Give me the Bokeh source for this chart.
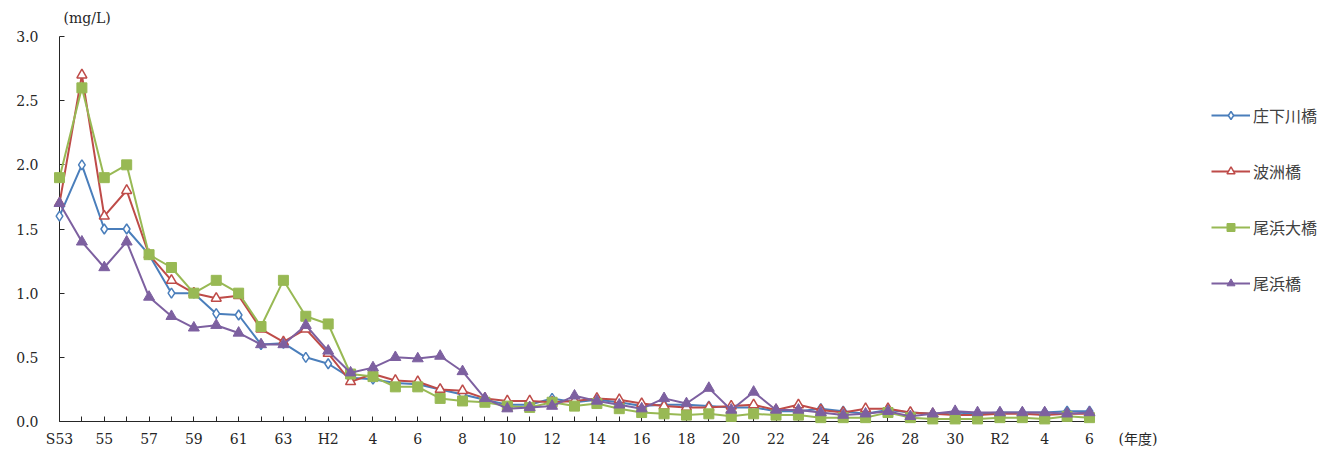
import numpy as np
from bokeh.plotting import figure
from bokeh.models import Range1d, FixedTicker, Legend, LegendItem, NumeralTickFormatter
from bokeh.embed import file_html
from bokeh.resources import INLINE
from bokeh.core.properties import value

# fiscal years S53 (1978) ... R6 (2024), index 0..46
year_index = list(range(47))
tick_positions = list(range(0, 47, 2))
tick_labels = ["S53", "55", "57", "59", "61", "63", "H2", "4", "6", "8", "10", "12",
               "14", "16", "18", "20", "22", "24", "26", "28", "30", "R2", "4", "6"]
y_ticks = [0.0, 0.5, 1.0, 1.5, 2.0, 2.5, 3.0]

names = ["庄下川橋", "波洲橋", "尾浜大橋", "尾浜橋"]

shoge = [1.6, 2.0, 1.5, 1.5, 1.3, 1.0, 1.0, 0.84, 0.83, 0.60, 0.61, 0.50, 0.45, 0.34, 0.33, 0.30,
         0.29, 0.25, 0.21, 0.17, 0.13, 0.13, 0.18, 0.15, 0.17, 0.15, 0.12, 0.13, 0.13, 0.12, 0.11,
         0.11, 0.08, 0.08, 0.10, 0.08, 0.06, 0.09, 0.07, 0.06, 0.07, 0.06, 0.07, 0.07, 0.07, 0.08, 0.08]
hasu = [1.7, 2.7, 1.6, 1.8, 1.3, 1.1, 1.0, 0.96, 0.98, 0.72, 0.62, 0.72, 0.53, 0.31, 0.37, 0.32,
        0.31, 0.25, 0.24, 0.18, 0.16, 0.16, 0.15, 0.16, 0.18, 0.17, 0.14, 0.12, 0.11, 0.11, 0.12,
        0.13, 0.09, 0.13, 0.09, 0.07, 0.10, 0.10, 0.07, 0.06, 0.05, 0.05, 0.06, 0.06, 0.05, 0.06, 0.06]
obama_ohashi = [1.9, 2.6, 1.9, 2.0, 1.3, 1.2, 1.0, 1.1, 1.0, 0.74, 1.1, 0.82, 0.76, 0.37, 0.35, 0.27,
                0.27, 0.18, 0.16, 0.15, 0.12, 0.11, 0.15, 0.12, 0.14, 0.10, 0.07, 0.06, 0.05, 0.06, 0.04,
                0.06, 0.05, 0.05, 0.03, 0.03, 0.03, 0.07, 0.03, 0.02, 0.02, 0.02, 0.03, 0.03, 0.02, 0.04, 0.03]
obama = [1.7, 1.4, 1.2, 1.4, 0.97, 0.82, 0.73, 0.75, 0.69, 0.60, 0.60, 0.75, 0.55, 0.38, 0.42, 0.50,
         0.49, 0.51, 0.39, 0.18, 0.10, 0.11, 0.12, 0.20, 0.16, 0.13, 0.10, 0.18, 0.14, 0.26, 0.09,
         0.23, 0.09, 0.09, 0.07, 0.05, 0.06, 0.08, 0.04, 0.06, 0.08, 0.07, 0.07, 0.07, 0.07, 0.06, 0.07]

series = [shoge, hasu, obama_ohashi, obama]
colors = ["#4A7EBB", "#BE4B48", "#98B954", "#7D60A0"]

SERIF = "DejaVu Serif, 'Noto Sans CJK JP'"
SANS = "Noto Sans CJK JP"
TXT = "#262626"

# frame: data x 0..46 spans 1030 px; the frame continues to the right edge
# of the canvas (room for the legend), the axis itself is bounded to 0..46
LEFT, TOP, BOTTOM = 59, 36, 27
AXIS_PX = 1030
x_end = 46 * (1319 - LEFT) / AXIS_PX

p = figure(width=1319, height=449, x_range=Range1d(0, x_end), y_range=Range1d(0, 3),
           output_backend="svg", toolbar_location=None,
           min_border_left=LEFT, min_border_right=0, min_border_top=TOP, min_border_bottom=BOTTOM)
p.outline_line_color = None
p.xgrid.grid_line_color = None
p.ygrid.grid_line_color = None
p.background_fill_color = "white"

# y axis
p.yaxis.ticker = FixedTicker(ticks=y_ticks)
p.yaxis.formatter = NumeralTickFormatter(format="0.0")
p.yaxis.major_tick_in = 5
p.yaxis.major_tick_out = 0
p.yaxis.minor_tick_line_color = None
p.yaxis.major_label_standoff = 21
p.yaxis.axis_line_color = TXT
p.yaxis.major_tick_line_color = TXT
p.yaxis.major_label_text_font = SERIF
p.yaxis.major_label_text_font_size = "14px"
p.yaxis.major_label_text_color = TXT

# x axis
p.xaxis.bounds = (0, 46)
p.xaxis.ticker = FixedTicker(ticks=tick_positions,
                             minor_ticks=[i for i in year_index if i % 2 == 1])
p.xaxis.major_label_overrides = {pos: lab for pos, lab in zip(tick_positions, tick_labels)}
p.xaxis.major_tick_in = 5
p.xaxis.major_tick_out = 0
p.xaxis.minor_tick_in = 5
p.xaxis.minor_tick_out = 0
p.xaxis.major_label_standoff = 9
p.xaxis.axis_line_color = TXT
p.xaxis.major_tick_line_color = TXT
p.xaxis.minor_tick_line_color = TXT
p.xaxis.major_label_text_font = SERIF
p.xaxis.major_label_text_font_size = "14px"
p.xaxis.major_label_text_color = TXT

markers = [dict(marker="diamond", size=10, fill_color="white", line_width=1.5),
           dict(marker="triangle", size=10, fill_color="white", line_width=1.5),
           dict(marker="square", size=10, line_width=1),
           dict(marker="triangle", size=11, line_width=1)]

items = []
for name, vals, col, mk in zip(names, series, colors, markers):
    lr = p.line(year_index, vals, line_color=col, line_width=2, level="annotation")
    kw = dict(mk)
    fc = kw.pop("fill_color", col)
    sr = p.scatter(year_index, vals, fill_color=fc, line_color=col, level="annotation", **kw)
    items.append(LegendItem(label=name, renderers=[lr, sr]))

legend = Legend(items=items, location=(1152, 126), orientation="vertical",
                glyph_width=39, glyph_height=20, label_height=20, spacing=32,
                label_standoff=3, padding=0, margin=0,
                border_line_color=None, background_fill_alpha=0,
                label_text_font=SANS, label_text_font_size="16px",
                label_text_color="#404040")
p.add_layout(legend)

# unit labels
p.text(x=[0.18], y=[3.148], text=["(mg/L)"], text_baseline="middle", text_align="left",
       text_font=value(SERIF), text_font_size=value("14px"), text_color=TXT, level="annotation")
p.text(x=[47.3], y=[-0.14], text=["(年度)"], text_baseline="middle", text_align="left",
       text_font=value(SERIF), text_font_size=value("14px"), text_color=TXT, level="annotation")

open("out.html", "w").write(file_html(p, INLINE))
